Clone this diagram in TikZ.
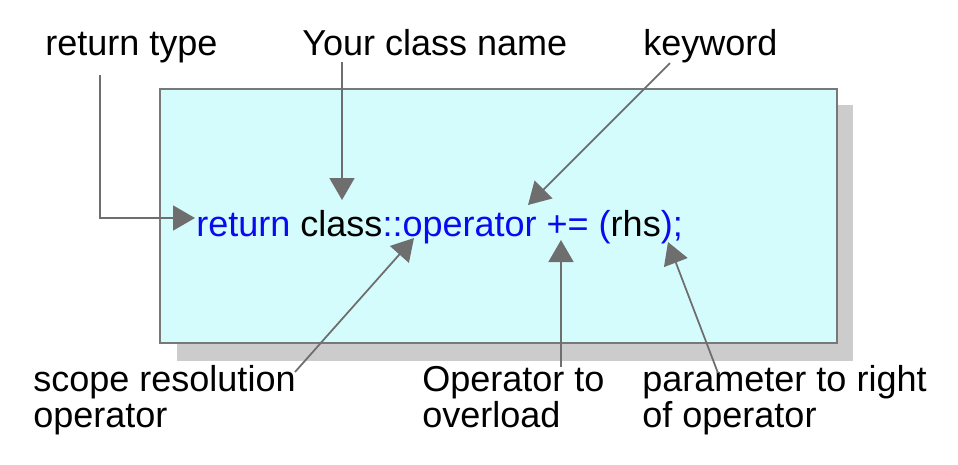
\documentclass[tikz,border=0pt]{standalone}
\usepackage{fontspec}
\setmainfont{Liberation Sans}
\usetikzlibrary{arrows.meta}
\definecolor{boxfill}{RGB}{212,252,252}
\definecolor{boxline}{RGB}{120,120,120}
\definecolor{shadowgray}{RGB}{204,204,204}
\definecolor{codeblue}{RGB}{10,10,240}
\definecolor{pointer}{RGB}{110,110,110}
\tikzset{
  label text/.style={anchor=base west,inner sep=0pt,align=left,font=\fontsize{20.5}{20}\selectfont},
  pointer line/.style={draw=pointer,line width=1pt,-{Triangle[length=0.44cm,width=0.5cm]}}
}

\begin{document}
\begin{tikzpicture}[x=0.02cm,y=-0.02cm]
    \useasboundingbox (0,0) rectangle (958,464);
    % box and shadow
    \fill[shadowgray] (177,105) rectangle (853,361);
    \draw[boxline,line width=1pt,fill=boxfill] (160,89) rectangle (837,343);
    \begin{scope}[every node/.style={label text}]
        \node (rettype) at (45,55) {return type};
        \node (clsname) at (302,55) {Your class name};
        \node (keyword) at (643,55) {keyword};
        % base of a two-line node is its last line
        \node (scope) at (33,427) {scope resolution\\operator};
        \node (opover) at (422,427) {Operator to\\overload};
        \node (param) at (642,427) {parameter to right\\of operator};
        \node (code) at (196,236) {\color{codeblue}return \color{black}class\color{codeblue}::operator += (\color{black}rhs\color{codeblue});};
    \end{scope}
    % ends of the pointers
    \coordinate (rtop) at (100,75);
    \coordinate (rtip) at (195,218);
    \coordinate (ctop) at (342,62);
    \coordinate (ctip) at (342,200);
    \coordinate (ktop) at (670,63);
    \coordinate (ktip) at (528,205);
    \coordinate (stail) at (295,372);
    \coordinate (stip) at (414,238);
    \coordinate (otail) at (561,367);
    \coordinate (otip) at (561,240);
    \coordinate (ptail) at (718,373);
    \coordinate (ptip) at (668,242);
    \draw[pointer line] (rtop) |- (rtip);
    \begin{scope}[every edge/.style={pointer line}]
        \path (ctop) edge (ctip);
        \path (ktop) edge (ktip);
        \path (stail) edge (stip);
        \path (otail) edge (otip);
        \path (ptail) edge (ptip);
    \end{scope}
\end{tikzpicture}
\end{document}
